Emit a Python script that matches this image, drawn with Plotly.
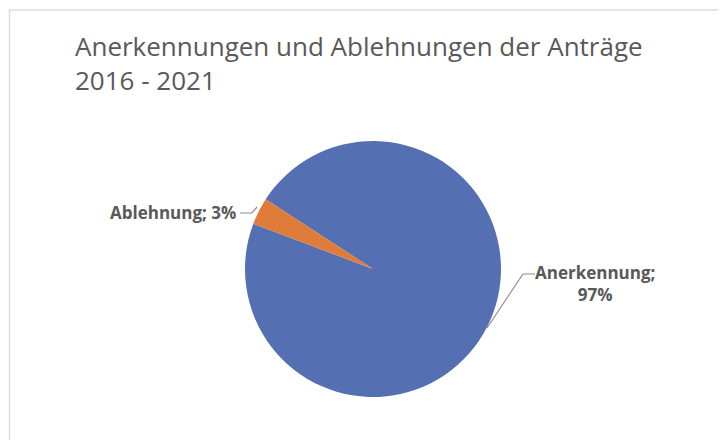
import plotly.graph_objects as go

# Data
categories = ["Anerkennung", "Ablehnung"]
values = [96.6, 3.4]
colors = ["#5470B3", "#E07C3A"]
title_text = "Anerkennungen und Ablehnungen der Anträge<br>2016 - 2021"

W, H = 726, 440
OFF = 8  # page body margin


def px(x):
    return (x - OFF) / W


def py(y):
    return 1 - (y - OFF) / H


total = sum(values)
pcts = [v / total * 100 for v in values]

# pie geometry (pixels in the screenshot)
cx, cy, r = 373, 269, 128

fig = go.Figure()
fig.add_trace(go.Pie(
    labels=categories,
    values=values,
    sort=False,
    direction="clockwise",
    rotation=-57,
    marker=dict(colors=colors, line=dict(width=0)),
    textinfo="none",
    hoverinfo="label+percent",
    showlegend=False,
    domain=dict(x=[px(cx - r), px(cx + r)], y=[py(cy + r), py(cy - r)]),
))

label_font = dict(family="Open Sans", size=17, color="#595959")

annotations = [
    dict(text=f"<b>{categories[1]}; {pcts[1]:.0f}%</b>", x=px(238), y=py(213),
         xanchor="right", yanchor="middle", showarrow=False, font=label_font),
    dict(text=f"<b>{categories[0]};<br>{pcts[0]:.0f}%</b>", x=px(595), y=py(283),
         xanchor="center", yanchor="middle", align="center", showarrow=False,
         font=label_font),
]

shapes = [
    # chart frame
    dict(type="rect", xref="paper", yref="paper", x0=px(9.5), y0=py(460), x1=px(760), y1=py(10),
         line=dict(color="#DDDDDD", width=1.5), fillcolor="rgba(0,0,0,0)", layer="below"),
    # leader lines
    dict(type="path", xref="paper", yref="paper",
         path=f"M {px(240)} {py(213)} L {px(252)} {py(213)} L {px(257)} {py(207)}",
         line=dict(color="#8C8C8C", width=1.2)),
    dict(type="path", xref="paper", yref="paper",
         path=f"M {px(535)} {py(274)} L {px(523)} {py(274)} L {px(487)} {py(328)}",
         line=dict(color="#8C8C8C", width=1.2)),
]

fig.update_layout(
    width=W, height=H,
    margin=dict(l=0, r=0, t=0, b=0),
    paper_bgcolor="white",
    plot_bgcolor="white",
    title=dict(text=title_text, x=67 / W, xanchor="left", y=1 - 48 / H, yanchor="top",
               font=dict(family="Open Sans", size=26, color="#595959")),
    annotations=annotations,
    shapes=shapes,
)

fig.write_html("out.html")
